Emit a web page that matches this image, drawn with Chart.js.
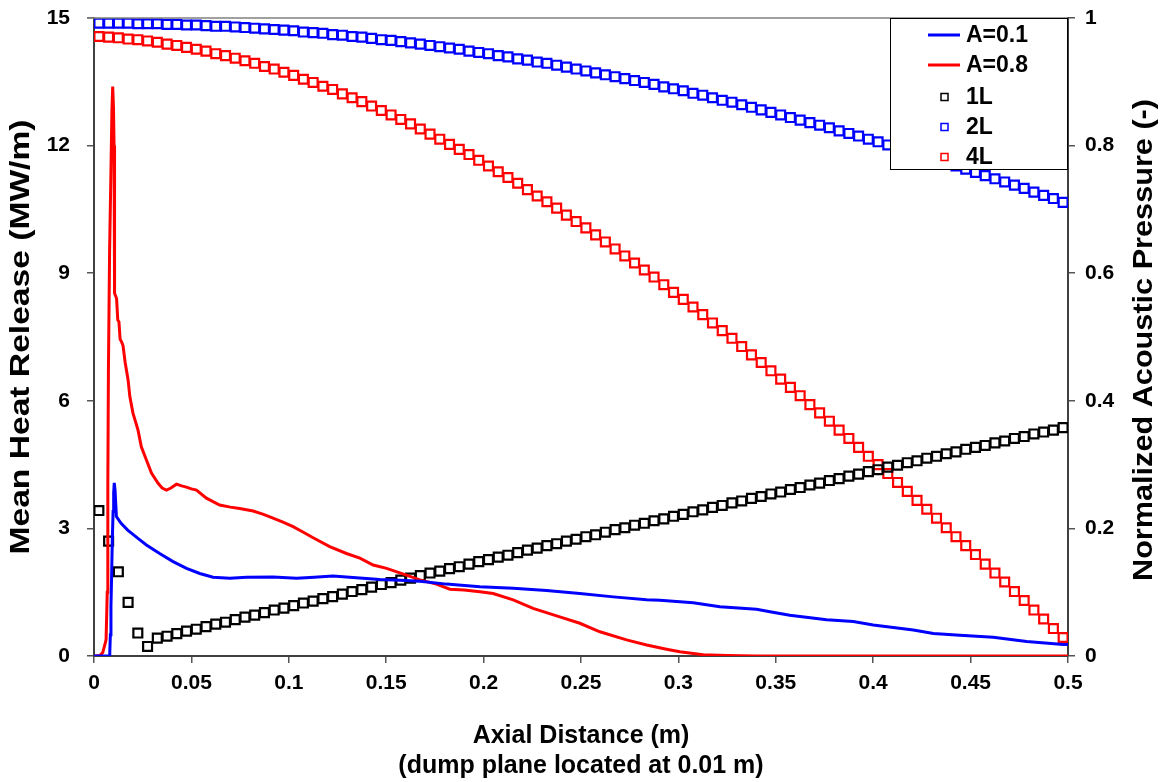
<!DOCTYPE html>
<html>
<head>
<meta charset="utf-8">
<script src="https://cdn.jsdelivr.net/npm/chart.js@4.4.1/dist/chart.umd.min.js"></script>
<style>
  html, body { margin: 0; padding: 0; background: #fff; }
  canvas { display: block; }
</style>
</head>
<body>
<canvas id="chart" width="1165" height="782"></canvas>
<script>
// axis ticks
const xTickValues = [0, 0.05, 0.1, 0.15, 0.2, 0.25, 0.3, 0.35, 0.4, 0.45, 0.5];
const xTickLabels = ['0', '0.05', '0.1', '0.15', '0.2', '0.25', '0.3', '0.35', '0.4', '0.45', '0.5'];
const heatTickValues = [0, 3, 6, 9, 12, 15];
const heatTickLabels = ['0', '3', '6', '9', '12', '15'];
const presTickValues = [0, 0.2, 0.4, 0.6, 0.8, 1];
const presTickLabels = ['0', '0.2', '0.4', '0.6', '0.8', '1'];

// mean heat release, A=0.1 (MW/m)
const heatX01 = [0, 0.0078, 0.0081, 0.0084, 0.0087, 0.0091, 0.0094, 0.0098, 0.0101, 0.0104,
  0.0108, 0.0115, 0.0139, 0.0173, 0.0224, 0.0269, 0.0337, 0.0406, 0.0475, 0.0543,
  0.0611, 0.0697, 0.0783, 0.0920, 0.1040, 0.1130, 0.1227, 0.1381, 0.1467, 0.1573,
  0.1673, 0.1809, 0.1981, 0.2152, 0.2323, 0.2494, 0.2666, 0.2837, 0.2905, 0.3076,
  0.3213, 0.3401, 0.3470, 0.3572, 0.3761, 0.3898, 0.4000, 0.4103, 0.4206, 0.4309,
  0.4445, 0.4616, 0.4788, 0.4976, 0.5];
const heat01 = [0, 0, 0.07, 0.5, 1.16, 2.0, 2.73, 3.4, 3.83, 4.07,
  3.9, 3.28, 3.12, 2.96, 2.77, 2.61, 2.41, 2.22, 2.06, 1.94,
  1.85, 1.83, 1.85, 1.86, 1.83, 1.85, 1.88, 1.83, 1.80, 1.78,
  1.76, 1.69, 1.63, 1.59, 1.54, 1.47, 1.39, 1.32, 1.31, 1.25,
  1.16, 1.10, 1.04, 0.96, 0.85, 0.81, 0.73, 0.67, 0.61, 0.53,
  0.49, 0.44, 0.34, 0.27, 0.27];

// mean heat release, A=0.8 (MW/m)
const heatX08 = [0, 0.003, 0.0045, 0.0062, 0.0068, 0.0071, 0.0074, 0.0080, 0.0087, 0.0092,
  0.0096, 0.0100, 0.0103, 0.0105, 0.0106, 0.0112, 0.0116, 0.0122, 0.0128, 0.0134,
  0.0142, 0.0149, 0.0160, 0.0175, 0.0184, 0.0200, 0.0226, 0.0243, 0.0269, 0.0295,
  0.0329, 0.0350, 0.0372, 0.0395, 0.0423, 0.0450, 0.0474, 0.0500, 0.0526, 0.0577,
  0.0645, 0.0700, 0.0748, 0.0817, 0.0870, 0.0919, 0.0970, 0.1022, 0.1070, 0.1125,
  0.1210, 0.1296, 0.1365, 0.1433, 0.1502, 0.1604, 0.1673, 0.1758, 0.1827, 0.1900,
  0.1981, 0.2049, 0.2152, 0.2254, 0.2391, 0.2494, 0.2597, 0.2734, 0.2837, 0.2939,
  0.3007, 0.3127, 0.3250, 0.3400, 0.5];
const heat08 = [0, 0.01, 0.08, 0.38, 1.5, 4.0, 6.7, 9.5, 11.4, 12.8,
  13.39, 12.9, 12.0, 11.0, 8.53, 8.45, 8.4, 7.9, 7.86, 7.45,
  7.38, 7.3, 6.9, 6.49, 6.10, 5.71, 5.31, 4.92, 4.61, 4.30,
  4.06, 3.95, 3.90, 3.95, 4.04, 4.00, 3.97, 3.93, 3.90, 3.71,
  3.55, 3.50, 3.47, 3.41, 3.33, 3.24, 3.15, 3.04, 2.92, 2.78,
  2.57, 2.41, 2.30, 2.14, 2.06, 1.90, 1.79, 1.69, 1.57, 1.55,
  1.51, 1.47, 1.32, 1.12, 0.92, 0.77, 0.57, 0.38, 0.26, 0.16,
  0.10, 0.03, 0.01, 0, 0];

// acoustic mode shapes, sampled at the marker positions
const markerX = [0.0025, 0.0075, 0.0125, 0.0175, 0.0225, 0.0275, 0.0325, 0.0375, 0.0425, 0.0475,
  0.0525, 0.0575, 0.0625, 0.0675, 0.0725, 0.0775, 0.0825, 0.0875, 0.0925, 0.0975,
  0.1025, 0.1075, 0.1125, 0.1175, 0.1225, 0.1275, 0.1325, 0.1375, 0.1425, 0.1475,
  0.1525, 0.1575, 0.1625, 0.1675, 0.1725, 0.1775, 0.1825, 0.1875, 0.1925, 0.1975,
  0.2025, 0.2075, 0.2125, 0.2175, 0.2225, 0.2275, 0.2325, 0.2375, 0.2425, 0.2475,
  0.2525, 0.2575, 0.2625, 0.2675, 0.2725, 0.2775, 0.2825, 0.2875, 0.2925, 0.2975,
  0.3025, 0.3075, 0.3125, 0.3175, 0.3225, 0.3275, 0.3325, 0.3375, 0.3425, 0.3475,
  0.3525, 0.3575, 0.3625, 0.3675, 0.3725, 0.3775, 0.3825, 0.3875, 0.3925, 0.3975,
  0.4025, 0.4075, 0.4125, 0.4175, 0.4225, 0.4275, 0.4325, 0.4375, 0.4425, 0.4475,
  0.4525, 0.4575, 0.4625, 0.4675, 0.4725, 0.4775, 0.4825, 0.4875, 0.4925, 0.4975];
const mode1L = [0.228, 0.180, 0.132, 0.084, 0.036, 0.015,
  0.028, 0.031, 0.035, 0.039, 0.042, 0.046, 0.050, 0.053, 0.057, 0.061,
  0.064, 0.068, 0.072, 0.075, 0.079, 0.083, 0.086, 0.090, 0.093, 0.097,
  0.101, 0.104, 0.108, 0.112, 0.115, 0.119, 0.122, 0.126, 0.130, 0.133,
  0.137, 0.140, 0.144, 0.148, 0.151, 0.155, 0.158, 0.162, 0.166, 0.169,
  0.173, 0.176, 0.180, 0.183, 0.187, 0.190, 0.194, 0.198, 0.201, 0.205,
  0.208, 0.212, 0.215, 0.219, 0.222, 0.226, 0.229, 0.233, 0.236, 0.240,
  0.243, 0.247, 0.250, 0.254, 0.257, 0.261, 0.264, 0.268, 0.271, 0.275,
  0.278, 0.282, 0.285, 0.289, 0.292, 0.296, 0.299, 0.303, 0.306, 0.310,
  0.313, 0.317, 0.320, 0.324, 0.327, 0.330, 0.334, 0.337, 0.341, 0.344,
  0.348, 0.351, 0.354, 0.358];
const mode2L = [0.992, 0.992, 0.992, 0.992, 0.991, 0.991, 0.991, 0.990, 0.990, 0.989,
  0.989, 0.988, 0.987, 0.987, 0.986, 0.985, 0.984, 0.983, 0.982, 0.981,
  0.980, 0.978, 0.977, 0.976, 0.974, 0.973, 0.971, 0.970, 0.968, 0.966,
  0.965, 0.963, 0.961, 0.959, 0.957, 0.955, 0.953, 0.951, 0.948, 0.946,
  0.944, 0.941, 0.939, 0.936, 0.934, 0.931, 0.929, 0.926, 0.923, 0.920,
  0.917, 0.914, 0.911, 0.908, 0.905, 0.902, 0.899, 0.896, 0.892, 0.889,
  0.886, 0.882, 0.879, 0.875, 0.871, 0.868, 0.864, 0.860, 0.856, 0.852,
  0.848, 0.844, 0.840, 0.836, 0.832, 0.828, 0.823, 0.819, 0.815, 0.810,
  0.806, 0.801, 0.797, 0.792, 0.787, 0.783, 0.778, 0.773, 0.768, 0.763,
  0.758, 0.753, 0.748, 0.743, 0.738, 0.733, 0.727, 0.722, 0.717, 0.711];
const mode4L = [0.971, 0.970, 0.969, 0.967, 0.966, 0.964, 0.962, 0.959, 0.957, 0.954,
  0.951, 0.948, 0.944, 0.941, 0.937, 0.933, 0.929, 0.924, 0.920, 0.915,
  0.910, 0.904, 0.899, 0.893, 0.888, 0.881, 0.875, 0.869, 0.862, 0.855,
  0.848, 0.841, 0.834, 0.826, 0.818, 0.810, 0.802, 0.794, 0.786, 0.777,
  0.768, 0.759, 0.750, 0.741, 0.731, 0.721, 0.712, 0.702, 0.691, 0.681,
  0.671, 0.660, 0.649, 0.638, 0.627, 0.616, 0.605, 0.594, 0.582, 0.570,
  0.559, 0.547, 0.535, 0.522, 0.510, 0.498, 0.485, 0.472, 0.460, 0.447,
  0.434, 0.421, 0.408, 0.394, 0.381, 0.368, 0.354, 0.341, 0.327, 0.313,
  0.300, 0.286, 0.272, 0.258, 0.244, 0.230, 0.216, 0.201, 0.187, 0.173,
  0.159, 0.144, 0.130, 0.116, 0.101, 0.087, 0.072, 0.058, 0.043, 0.029];

const FONT = "'Liberation Sans', Arial, sans-serif";
const BLUE = '#0000ff';
const RED = '#ff0000';

const pairs = (xs, ys) => xs.map((x, i) => ({ x: x, y: ys[i] }));

// vertical axis title, reading upwards, stretched along its length
function sideTitle(ctx, text, cx, cy, length) {
  ctx.save();
  ctx.fillStyle = '#000';
  ctx.font = 'bold 27px ' + FONT;
  ctx.textAlign = 'center';
  ctx.textBaseline = 'middle';
  ctx.translate(cx, cy);
  ctx.rotate(-Math.PI / 2);
  ctx.scale(length / ctx.measureText(text).width, 1);
  ctx.fillText(text, 0, 0);
  ctx.restore();
}

// white page, top frame line, axis titles at the sides and the boxed legend
const extras = {
  id: 'extras',
  beforeDraw(chart) {
    const ctx = chart.ctx;
    ctx.save();
    ctx.fillStyle = '#fff';
    ctx.fillRect(0, 0, chart.width, chart.height);
    ctx.restore();
  },
  afterDraw(chart) {
    const ctx = chart.ctx;
    const a = chart.chartArea;
    ctx.save();
    // top frame
    ctx.strokeStyle = '#808080';
    ctx.lineWidth = 1.5;
    ctx.beginPath();
    ctx.moveTo(a.left - 7, a.top);
    ctx.lineTo(a.right, a.top);
    ctx.stroke();
    ctx.restore();

    sideTitle(ctx, 'Mean Heat Release (MW/m)', 22, 337, 435);
    sideTitle(ctx, 'Normalized Acoustic Pressure (-)', 1145, 340, 482);

    // legend
    ctx.save();
    const bx = 890, by = a.top, bw = a.right - 890, bh = 152;
    ctx.fillStyle = '#fff';
    ctx.fillRect(bx, by, bw, bh);
    ctx.strokeStyle = '#000';
    ctx.lineWidth = 1;
    ctx.strokeRect(bx + 0.5, by + 0.5, bw - 1, bh - 1);
    const rows = [35, 65, 97, 127, 157];
    ctx.font = 'bold 23px ' + FONT;
    ctx.textBaseline = 'middle';
    chart.data.datasets.forEach((ds, i) => {
      const y = rows[i];
      if (ds.showLine) {
        ctx.strokeStyle = ds.borderColor;
        ctx.lineWidth = 3;
        ctx.beginPath();
        ctx.moveTo(928, y);
        ctx.lineTo(960, y);
        ctx.stroke();
      } else {
        ctx.strokeStyle = ds.pointBorderColor;
        ctx.lineWidth = 1.5;
        ctx.strokeRect(941, y - 3.5, 7, 7);
      }
      ctx.fillStyle = '#000';
      ctx.fillText(ds.label, 966, y + 1);
    });
    ctx.restore();
  }
};

const tickFont = { family: FONT, size: 21, weight: 'bold' };

// keep the plot box where the reference has it, whatever the label sizes
const fixWidth = w => s => { s.width = w; s.paddingTop = 0; s.paddingBottom = 0; };
const fixHeight = h => s => { s.height = h; s.paddingLeft = 0; s.paddingRight = 0; };

new Chart(document.getElementById('chart'), {
  type: 'line',
  data: {
    datasets: [
      { label: 'A=0.1', data: pairs(heatX01, heat01), yAxisID: 'y', showLine: true,
        borderColor: BLUE, borderWidth: 3, pointRadius: 0, tension: 0 },
      { label: 'A=0.8', data: pairs(heatX08, heat08), yAxisID: 'y', showLine: true,
        borderColor: RED, borderWidth: 3, pointRadius: 0, tension: 0 },
      { label: '1L', data: pairs(markerX, mode1L), yAxisID: 'y1', showLine: false,
        pointStyle: 'rect', pointRadius: 6.3, pointBorderWidth: 2.2,
        pointBorderColor: '#000', pointBackgroundColor: 'rgba(255,255,255,0)' },
      { label: '2L', data: pairs(markerX, mode2L), yAxisID: 'y1', showLine: false,
        pointStyle: 'rect', pointRadius: 6.3, pointBorderWidth: 2.2,
        pointBorderColor: BLUE, pointBackgroundColor: 'rgba(255,255,255,0)' },
      { label: '4L', data: pairs(markerX, mode4L), yAxisID: 'y1', showLine: false,
        pointStyle: 'rect', pointRadius: 6.3, pointBorderWidth: 2.2,
        pointBorderColor: RED, pointBackgroundColor: 'rgba(255,255,255,0)' }
    ]
  },
  options: {
    responsive: false,
    animation: false,
    devicePixelRatio: 1,
    layout: { padding: { top: 18, left: 0, right: 0, bottom: 0 } },
    plugins: { legend: { display: false }, tooltip: { enabled: false } },
    scales: {
      x: {
        type: 'linear', min: 0, max: 0.5,
        afterBuildTicks: s => { s.ticks = xTickValues.map(v => ({ value: v })); },
        afterFit: fixHeight(126),
        ticks: { font: tickFont, color: '#000', padding: 8, maxRotation: 0, autoSkip: false,
          callback: (v, i) => xTickLabels[i] },
        grid: { drawOnChartArea: false, tickLength: 7, color: '#555', lineWidth: 1.5 },
        border: { color: '#404040', width: 2 },
        title: { display: true, text: ['Axial Distance (m)', '(dump plane located at 0.01 m)'],
          font: { family: FONT, size: 25, weight: 'bold', lineHeight: 1.2 }, color: '#000',
          padding: { top: 0, bottom: 1 } }
      },
      y: {
        position: 'left', min: 0, max: 15,
        afterBuildTicks: s => { s.ticks = heatTickValues.map(v => ({ value: v })); },
        afterFit: fixWidth(94),
        ticks: { font: tickFont, color: '#000', padding: 17,
          callback: (v, i) => heatTickLabels[i] },
        grid: { drawOnChartArea: false, tickLength: 7, color: '#555', lineWidth: 1.5 },
        border: { color: '#404040', width: 2 }
      },
      y1: {
        position: 'right', min: 0, max: 1,
        afterBuildTicks: s => { s.ticks = presTickValues.map(v => ({ value: v })); },
        afterFit: fixWidth(97),
        ticks: { font: tickFont, color: '#000', padding: 10,
          callback: (v, i) => presTickLabels[i] },
        grid: { drawOnChartArea: false, tickLength: 7, color: '#555', lineWidth: 1.5 },
        border: { color: '#404040', width: 2 }
      }
    }
  },
  plugins: [extras]
});
</script>
</body>
</html>
